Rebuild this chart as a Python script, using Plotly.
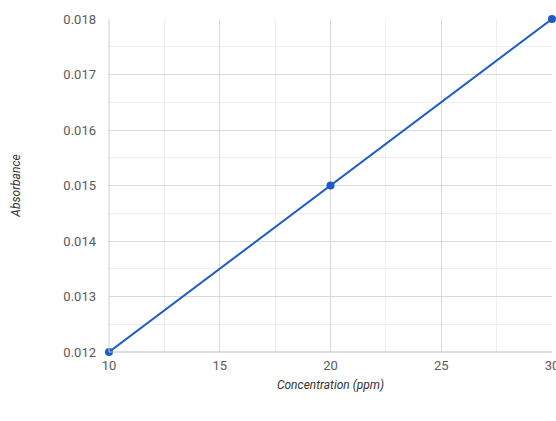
import plotly.graph_objects as go

concentration = [10, 20, 30]
absorbance = [0.012, 0.015, 0.018]
x_ticks = [10, 15, 20, 25, 30]
y_ticks = [0.012, 0.013, 0.014, 0.015, 0.016, 0.017, 0.018]

fig = go.Figure()
fig.add_trace(go.Scatter(
    x=concentration, y=absorbance, mode="lines+markers",
    line=dict(color="#1f5bc6", width=2),
    marker=dict(color="#1f5bc6", size=8),
    cliponaxis=False, showlegend=False))

fig.update_layout(
    width=556, height=421,
    margin=dict(l=109, r=4, t=19, b=69),
    paper_bgcolor="white", plot_bgcolor="white",
    font=dict(family="Roboto", color="#5a5a5a", size=13),
    xaxis=dict(
        range=[10, 30], tickvals=x_ticks, ticktext=[str(v) for v in x_ticks],
        showgrid=True, gridcolor="#d9d9d9", gridwidth=1,
        minor=dict(dtick=2.5, showgrid=True, gridcolor="#efefef", gridwidth=1),
        zeroline=False, showline=False, ticks="", ticklen=0,
        ticklabeloverflow="allow", ticklabelstandoff=4, automargin=False,
        title=dict(text="<i>Concentration (ppm)</i>", font=dict(size=12, color="#333"), standoff=8),
    ),
    yaxis=dict(
        range=[0.012, 0.018], tickvals=y_ticks, ticktext=["%.3f" % v for v in y_ticks],
        showgrid=True, gridcolor="#d9d9d9", gridwidth=1,
        minor=dict(dtick=0.0005, showgrid=True, gridcolor="#efefef", gridwidth=1),
        zeroline=False, showline=False, ticks="", ticklen=0,
        ticklabelstandoff=12, automargin=False,
        title=dict(text="<i>Absorbance</i>", font=dict(size=12, color="#333"), standoff=40),
    ),
)
fig.add_shape(type="line", xref="paper", yref="paper", x0=0, x1=1, y0=0, y1=0,
              line=dict(color="#bbbbbb", width=1))
fig.add_shape(type="line", xref="paper", yref="paper", x0=0, x1=0, y0=0, y1=1,
              line=dict(color="#cccccc", width=1))

fig.write_html("out.html")
